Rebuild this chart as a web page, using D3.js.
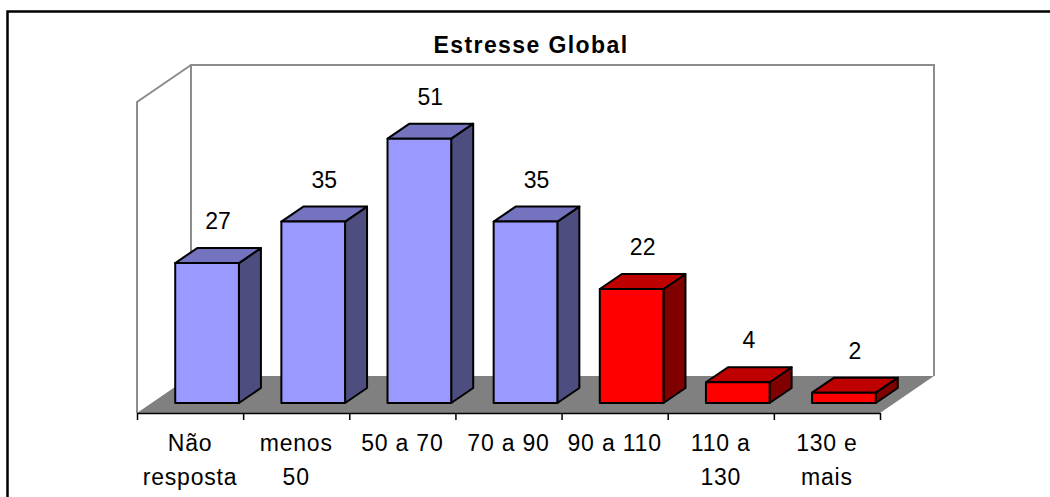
<!DOCTYPE html>
<html lang="pt">
<head>
<meta charset="UTF-8">
<title>Estresse Global</title>
<script src="https://cdn.jsdelivr.net/npm/d3@7/dist/d3.min.js"></script>
<style>
  body { margin: 0; background: #fff; }
  text { font-family: Arial, "Liberation Sans", sans-serif; fill: #000; }
</style>
</head>
<body>
<script>
// data
var categories = ['Não\nresposta', 'menos\n50', '50 a 70', '70 a 90', '90 a 110', '110 a\n130', '130 e\nmais'];
var values = [27, 35, 51, 35, 22, 4, 2];
var highlight = [false, false, false, false, true, true, true];
var title = 'Estresse Global';
var yMax = 60;

var width = 1050, height = 497;

// plot geometry (front plane of floor, oblique depth)
var left = 137, right = 880, floorY = 413;
var depth = { x: 54, y: -37 };
var wallH = 311;
var barOff = { x: 17, y: -10 };
var barDepth = { x: 22, y: -15 };

var palette = {
  blue: { front: '#9999ff', top: '#7373bf', side: '#4d4d80' },
  red: { front: '#ff0000', top: '#bf0000', side: '#800000' }
};

var svg = d3.select('body').append('svg')
  .attr('width', width)
  .attr('height', height);

// outer border
svg.append('rect')
  .attr('x', 7.5).attr('y', 11.5)
  .attr('width', 1100).attr('height', 600)
  .attr('fill', '#fff')
  .attr('stroke', '#000')
  .attr('stroke-width', 2.5);

var x = d3.scaleBand()
  .domain(d3.range(categories.length))
  .range([left, right])
  .paddingInner(0.4)
  .paddingOuter(0.2);

var y = d3.scaleLinear()
  .domain([0, yMax])
  .range([0, wallH]);

var pts = function (arr) {
  return arr.map(function (p) { return p.join(','); }).join(' ');
};

// walls
var bx0 = left + depth.x, bx1 = right + depth.x, by0 = floorY + depth.y;
var wallTop = by0 - y(yMax);
svg.append('polygon')
  .attr('points', pts([[bx0, wallTop], [bx1, wallTop], [bx1, by0], [bx0, by0]]))
  .attr('fill', '#fff');
svg.append('path')
  .attr('d', 'M' + bx0 + ',' + by0 + 'V' + wallTop + 'H' + bx1 + 'V' + by0)
  .attr('fill', 'none')
  .attr('stroke', '#8c8c8c')
  .attr('stroke-width', 2);
svg.append('path')
  .attr('d', 'M' + left + ',' + floorY + 'V' + (floorY - y(yMax)) + 'L' + bx0 + ',' + wallTop)
  .attr('fill', 'none')
  .attr('stroke', '#8c8c8c')
  .attr('stroke-width', 2);

// floor
svg.append('polygon')
  .attr('points', pts([[left, floorY], [right, floorY], [bx1, by0], [bx0, by0]]))
  .attr('fill', '#808080');

// axis
var xAxisScale = d3.scaleLinear().domain([0, categories.length]).range([left, right]);
svg.append('g')
  .attr('transform', 'translate(0,' + floorY + ')')
  .call(d3.axisBottom(xAxisScale)
    .tickValues(d3.range(categories.length + 1))
    .tickFormat('')
    .tickSize(7)
    .tickSizeOuter(0))
  .call(function (g) {
    g.select('.domain').attr('stroke', '#000').attr('stroke-width', 1.5);
    g.selectAll('.tick line').attr('stroke', '#000').attr('stroke-width', 1.5);
  });

// bars
var bars = svg.append('g').selectAll('g.bar')
  .data(values)
  .enter()
  .append('g')
  .attr('class', 'bar');

bars.each(function (v, i) {
  var g = d3.select(this);
  var c = highlight[i] ? palette.red : palette.blue;
  var x0 = x(i) + barOff.x, x1 = x0 + x.bandwidth();
  var yb = floorY + barOff.y, yt = yb - y(v);
  var dx = barDepth.x, dy = barDepth.y;
  g.append('polygon')
    .attr('points', pts([[x1, yb], [x1 + dx, yb + dy], [x1 + dx, yt + dy], [x1, yt]]))
    .attr('fill', c.side);
  g.append('polygon')
    .attr('points', pts([[x0, yt], [x1, yt], [x1 + dx, yt + dy], [x0 + dx, yt + dy]]))
    .attr('fill', c.top);
  g.append('rect')
    .attr('x', x0).attr('y', yt)
    .attr('width', x1 - x0).attr('height', yb - yt)
    .attr('fill', c.front);
  g.selectAll('polygon, rect')
    .attr('stroke', '#000')
    .attr('stroke-width', 2)
    .attr('stroke-linejoin', 'round');
  g.append('text')
    .attr('x', (x0 + x1) / 2 + dx / 2)
    .attr('y', yt - 34)
    .attr('text-anchor', 'middle')
    .style('font-size', '23px')
    .text(v);
});

// category labels
var labels = svg.append('g').selectAll('text.cat')
  .data(categories)
  .enter()
  .append('text')
  .attr('class', 'cat')
  .attr('text-anchor', 'middle')
  .style('font-size', '23px')
  .style('letter-spacing', '0.8px');
labels.each(function (d, i) {
  var t = d3.select(this);
  var cx = xAxisScale(i + 0.5);
  d.split('\n').forEach(function (line, k) {
    t.append('tspan')
      .attr('x', cx)
      .attr('y', 451 + k * 34)
      .text(line);
  });
});

// title
svg.append('text')
  .attr('x', 531)
  .attr('y', 53)
  .attr('text-anchor', 'middle')
  .style('font-size', '23px')
  .style('font-weight', 'bold')
  .style('letter-spacing', '1.4px')
  .text(title);
</script>
</body>
</html>
